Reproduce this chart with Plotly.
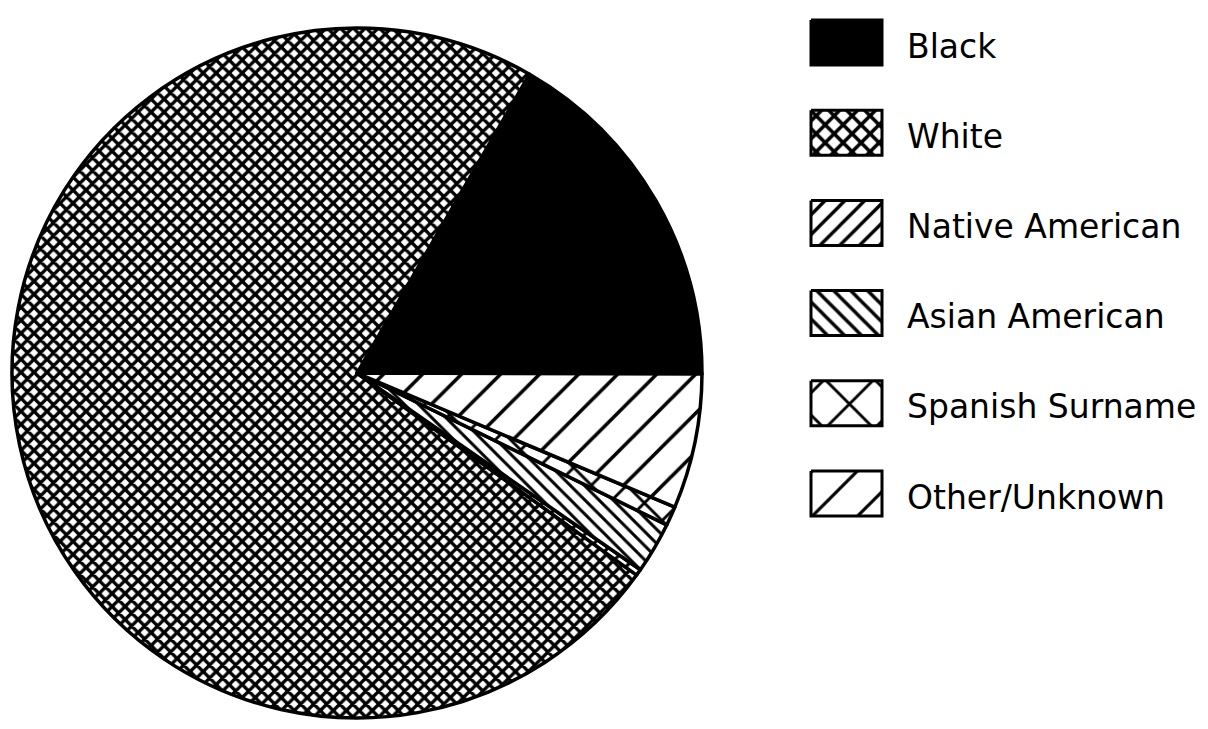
import plotly.graph_objects as go

# ---- data ----
categories = ["Black", "White", "Native American", "Asian American", "Spanish Surname", "Other/Unknown"]
shares = [16.7, 73.3, 0.3, 2.4, 0.9, 6.3]

# ---- styles ----
slice_colors = ["black", "white", "white", "white", "white", "white"]
pie_shapes = ["", "x", "/", "\\", "x", "/"]
pie_sizes = [8, 9.2, 13, 10, 25, 27.6]
pie_solid = [0.3, 0.6, 0.25, 0.3, 0.22, 0.13]

leg_shapes = ["", "x", "/", "\\", "x", "/"]
leg_sizes = [8, 12.7, 14, 12, 35, 32]
leg_solid = [0.3, 0.48, 0.24, 0.28, 0.16, 0.1]

# page body has an 8px margin; the figure fills the rest of the 1208x729 window
OFF = 8
W, H = 1208 - OFF, 729 - OFF


def px_x(x):
    return (x - OFF) / W


def px_y(y):
    return 1 - (y - OFF) / H


fig = go.Figure()

fig.add_trace(go.Pie(
    labels=categories,
    values=shares,
    sort=False,
    direction="counterclockwise",
    rotation=30,
    textinfo="none",
    hoverinfo="label+percent",
    showlegend=False,
    marker=dict(
        colors=slice_colors,
        line=dict(color="black", width=3.5),
        pattern=dict(shape=pie_shapes, size=pie_sizes, solidity=pie_solid,
                     fgcolor="black", bgcolor=slice_colors, fillmode="replace"),
    ),
    domain=dict(x=[px_x(12), px_x(702)], y=[px_y(718), px_y(28)]),
))

# ---- custom legend (boxes with the same hatching) ----
leg_x0, leg_x1 = 811, 882
row0, row_step, box_h = 42.5, 90.2, 45
text_x = 905
for i, name in enumerate(categories):
    yc = row0 + i * row_step
    y0, y1 = yc - box_h / 2, yc + box_h / 2
    is_solid = leg_shapes[i] == ""
    fig.add_trace(go.Scatter(
        x=[leg_x0, leg_x1, leg_x1, leg_x0, leg_x0],
        y=[y0, y0, y1, y1, y0],
        mode="lines",
        fill="toself",
        fillcolor="black" if is_solid else "white",
        fillpattern=None if is_solid else dict(shape=leg_shapes[i], size=leg_sizes[i],
                                               solidity=leg_solid[i], fgcolor="black",
                                               bgcolor="white", fillmode="replace"),
        line=dict(color="black", width=3),
        hoverinfo="skip",
        showlegend=False,
    ))
    fig.add_annotation(
        x=text_x, y=yc + 3.5, xref="x", yref="y", text=name, showarrow=False,
        xanchor="left", yanchor="middle",
        font=dict(family="DejaVu Sans", size=33, color="black"),
    )

fig.update_layout(
    width=W, height=H,
    margin=dict(l=0, r=0, t=0, b=0),
    paper_bgcolor="white", plot_bgcolor="rgba(0,0,0,0)",
    xaxis=dict(range=[OFF, 1208], visible=False, fixedrange=True),
    yaxis=dict(range=[729, OFF], visible=False, fixedrange=True),
)

fig.write_html("out.html")
